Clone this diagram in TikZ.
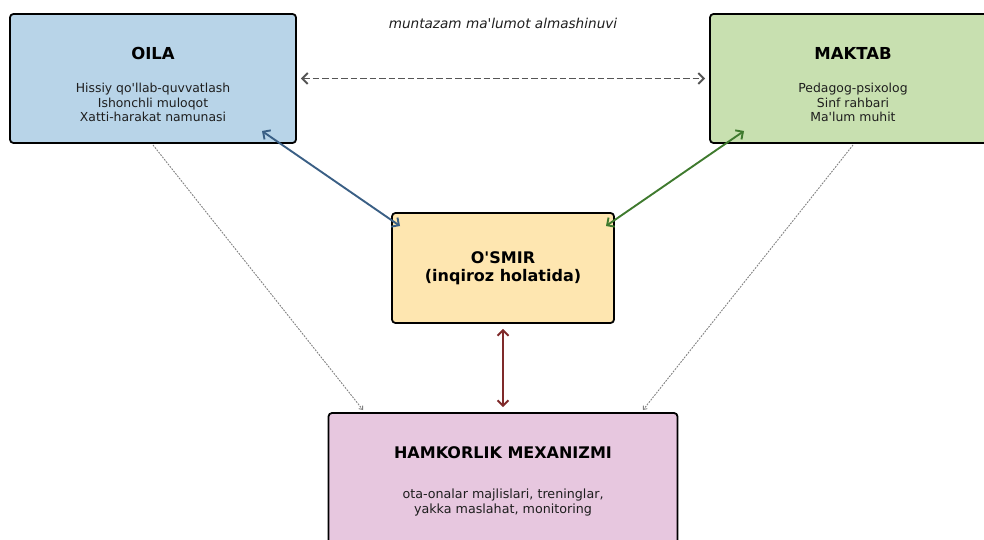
\documentclass[tikz,border=0pt]{standalone}
\usepackage{fontspec}
\setmainfont{DejaVu Sans}
\usetikzlibrary{arrows.meta,calc}
\definecolor{oilaf}{HTML}{B8D4E8}
\definecolor{maktabf}{HTML}{C8E0B0}
\definecolor{osmirf}{HTML}{FEE6B0}
\definecolor{hamf}{HTML}{E7C7DF}
\definecolor{bluec}{HTML}{3A5F85}
\definecolor{greenc}{HTML}{3F7A2E}
\definecolor{redc}{HTML}{7F2A2A}
\definecolor{grayc}{HTML}{555555}
\definecolor{bodyc}{HTML}{1E1E1E}
\newcommand\ap{\textquotesingle}
\tikzset{
  box/.style={draw=black, line width=1.8pt, rounded corners=3.5pt, inner sep=0pt},
  ttl/.style={font=\fontsize{16.5}{19}\selectfont\bfseries, text=black, align=center, inner sep=0pt},
  bdy/.style={font=\fontsize{12.4}{14.6}\selectfont, text=bodyc, align=center, inner sep=0pt},
  dbl/.style={line width=1.9pt, {Straight Barb[length=5.5pt,width=11pt]}-{Straight Barb[length=5.5pt,width=11pt]}},
  thin/.style={draw=gray, line width=0.9pt, dash pattern=on 1.8pt off 1.2pt, -{Straight Barb[length=3pt,width=5pt]}}
}
\begin{document}
\begin{tikzpicture}[x=1pt,y=-1pt]
\useasboundingbox (0,0) rectangle (984,540);
% boxes
\node[box, fill=oilaf, minimum width=286pt, minimum height=129pt] (oila) at (153,78.5) {};
\node[box, fill=maktabf, minimum width=286pt, minimum height=129pt] (maktab) at (853,78.5) {};
\node[box, fill=osmirf, minimum width=222pt, minimum height=110pt] (osmir) at (503,268) {};
\node[box, fill=hamf, minimum width=349pt, minimum height=140pt] (ham) at (503,483) {};
% texts
\node[ttl] (oilat) at (153,53) {OILA};
\node[bdy, anchor=north] (oilab) at (153,83) {Hissiy qo\ap llab-quvvatlash\\Ishonchli muloqot\\Xatti-harakat namunasi};
\node[ttl] (maktabt) at (853,53) {MAKTAB};
\node[bdy, anchor=north] (maktabb) at (853,83) {Pedagog-psixolog\\Sinf rahbari\\Ma\ap lum muhit};
\node[ttl, font=\fontsize{16}{18}\selectfont\bfseries] (osmirt) at (503,268) {O\ap SMIR\\(inqiroz holatida)};
\node[ttl, font=\fontsize{16}{18}\selectfont\bfseries] (hamt) at (503,453) {HAMKORLIK MEXANIZMI};
\node[bdy, anchor=north, font=\fontsize{12.7}{14.8}\selectfont] (hamb) at (503,489) {ota-onalar majlislari, treninglar,\\yakka maslahat, monitoring};
\node[font=\fontsize{13.6}{15}\selectfont\itshape, text=bodyc, inner sep=0pt] (lbl) at (503,23) {muntazam ma\ap lumot almashinuvi};
% coordinates for connector ends
\coordinate (oilaA) at (262,131);
\coordinate (osmirA) at (400,226);
\coordinate (maktabA) at (744,131);
\coordinate (osmirB) at (606,226);
\coordinate (hamA) at (363,410);
\coordinate (hamB) at (643,410);
\coordinate (oilaS) at (153,145);
\coordinate (maktabS) at (853,145);
% connectors
\draw[dbl, draw=grayc, dash pattern=on 6.5pt off 3pt, shorten <=4pt, shorten >=4pt] (oila.east) -- (maktab.west);
\draw[dbl, draw=bluec] (oilaA) -- (osmirA);
\draw[dbl, draw=greenc] (maktabA) -- (osmirB);
\draw[dbl, draw=redc, shorten <=5pt, shorten >=5pt] (osmir.south) -- (ham.north);
\draw[thin] (oilaS) -- (hamA);
\draw[thin] (maktabS) -- (hamB);
\end{tikzpicture}
\end{document}
